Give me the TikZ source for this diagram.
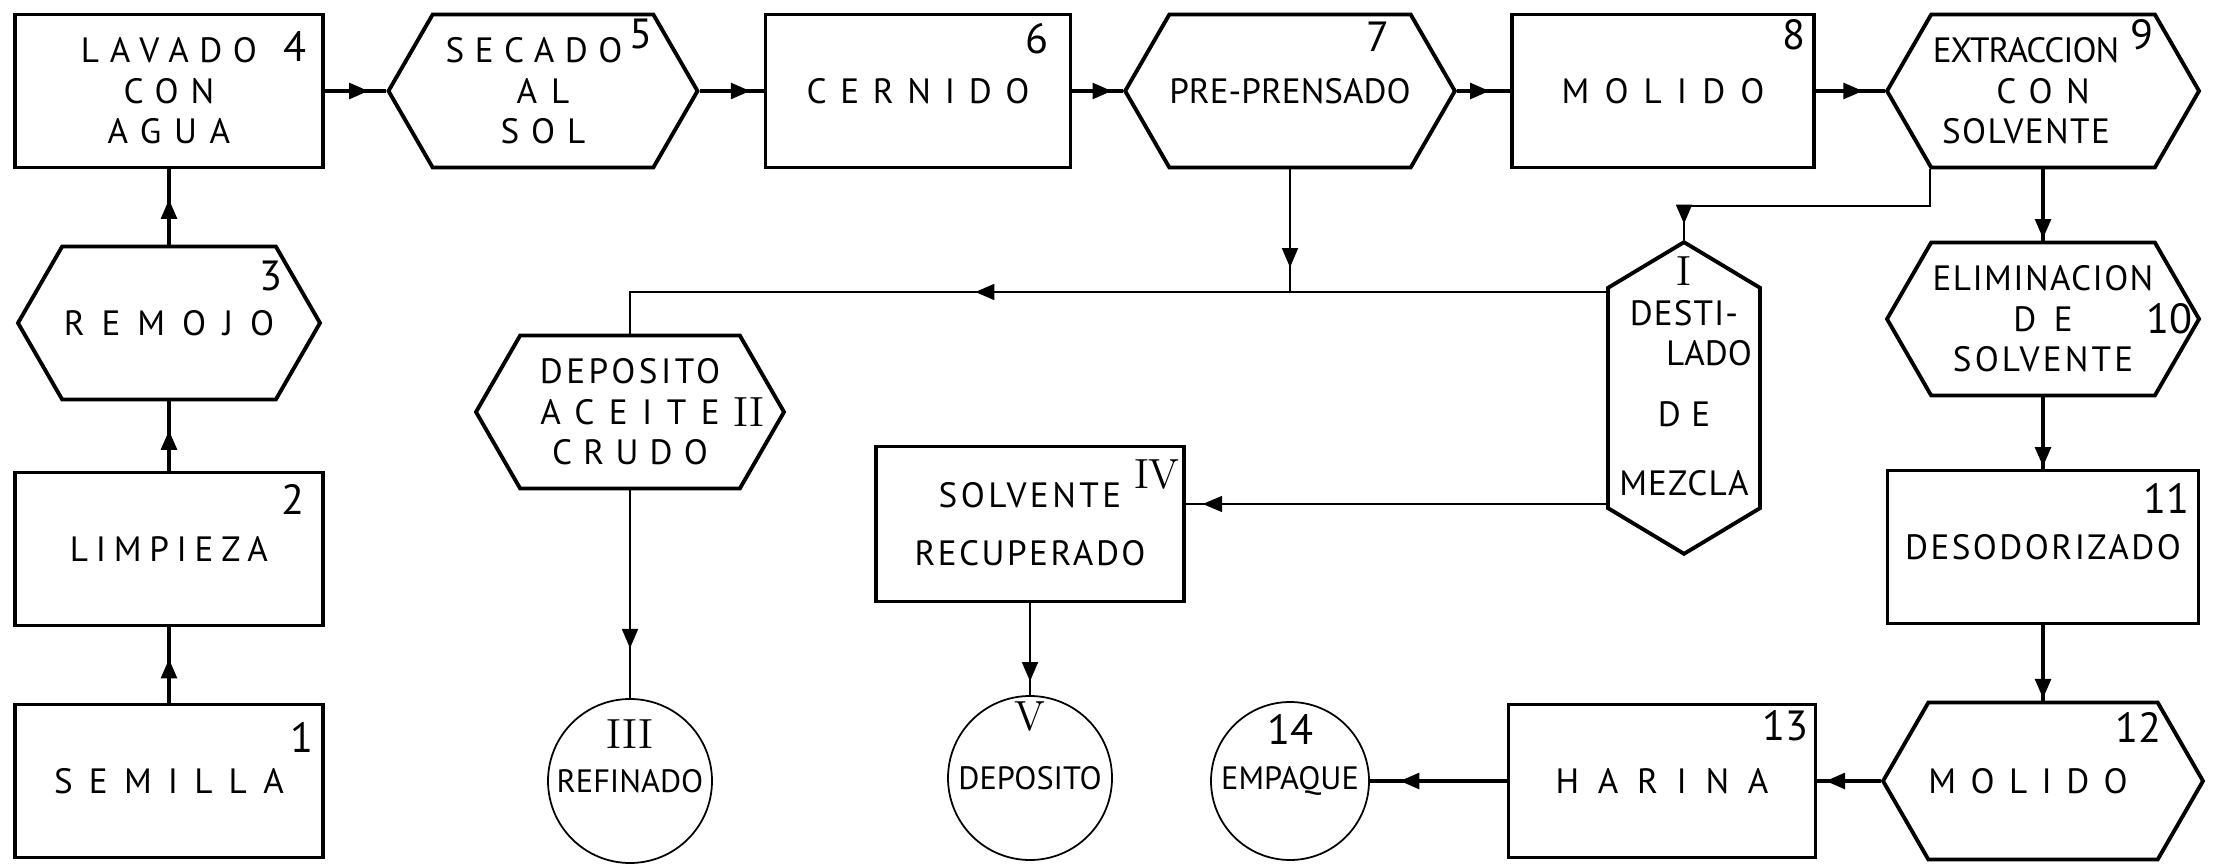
\documentclass[tikz,border=0pt]{standalone}
\usepackage{fontspec}
\setsansfont{PT Sans}
\usepackage{tikz}
\usetikzlibrary{arrows.meta,calc,positioning,shapes.symbols,decorations.markings}
\newcommand{\trk}[2]{{\addfontfeatures{LetterSpace=#1}#2}}

\begin{document}
\begin{tikzpicture}[
    stage/.style={draw,line width=1.1pt,minimum width=3.08cm,minimum height=1.53cm,
      inner sep=0pt,align=center,font=\sffamily\fontsize{10}{11.5}\selectfont},
    hexa/.style={stage,shape=signal,signal to=east and west,signal pointer angle=120},
    tank/.style={draw,circle,line width=0.5pt,minimum size=1.64cm,inner sep=0pt,
      font=\sffamily\fontsize{9.2}{11}\selectfont},
    num/.style={inner sep=0pt,font=\sffamily\fontsize{12}{12}\selectfont},
    rom/.style={inner sep=0pt,font=\rmfamily\fontsize{12}{12}\selectfont},
    flow/.style={line width=0.9pt,postaction={decorate},decoration={markings,
      mark=at position #1 with {\arrow{Triangle[length=5.5pt,width=4.5pt]}}}}]
  \path[fill=white,use as bounding box] (0,0) rectangle (22.15,8.63);

  \node[stage] (b4) at (1.69,7.72) {\trk{30}{LAVADO}\\\trk{34}{CON}\\\trk{36}{AGUA}};
  \node[hexa,minimum width=3.09cm] (h5) at (5.43,7.72) {\trk{30}{SECADO}\hspace*{0.18cm}\\\trk{40}{AL}\\\trk{34}{SOL}};
  \node[stage,minimum width=3.05cm] (b6) at (9.18,7.72) {\trk{39}{CERNIDO}};
  \node[hexa,minimum width=2.98cm] (h7) at (12.90,7.72) {PRE-PRENSADO};
  \node[stage,minimum width=3.02cm] (b8) at (16.63,7.72) {\trk{43}{MOLIDO}};
  \node[hexa,minimum width=3.12cm] (h9) at (20.43,7.72)
    {\trk{-3}{EXTRACCION}\hspace*{0.34cm}\\\trk{38}{CON}\hspace*{0.34cm}\\\trk{4}{SOLVENTE}\hspace*{0.34cm}};
  \node[hexa,minimum width=3.02cm] (h3) at (1.69,5.40) {\trk{48}{REMOJO}};
  \node[stage] (b2) at (1.69,3.14) {\trk{22}{LIMPIEZA}};
  \node[stage] (b1) at (1.69,0.82) {\trk{46}{SEMILLA}};
  \node[hexa] (hII) at (6.30,4.51) {\trk{10}{DEPOSITO}\\\trk{41}{ACEITE}\\\trk{32}{CRUDO}};
  \node[tank] (cIII) at (6.30,0.82) {REFINADO};
  \node[stage,minimum height=1.55cm] (bIV) at (10.30,3.39) {\trk{10}{SOLVENTE}\\[4.9pt]\trk{7}{RECUPERADO}};
  \node[tank] (cV) at (10.30,0.85) {DEPOSITO};
  \node[tank,minimum size=1.58cm] (c14) at (12.90,0.82) {EMPAQUE};
  \node[stage,minimum width=3.07cm] (b13) at (16.62,0.82) {\trk{53}{HARINA}};
  \node[hexa,minimum height=1.57cm] (h12) at (20.43,0.82) {\trk{41}{MOLIDO}\hspace*{0.3cm}};
  \node[stage,minimum width=3.11cm] (b11) at (20.43,3.16) {\trk{7}{DESODORIZADO}};
  \node[hexa,minimum width=3.12cm] (h10) at (20.43,5.44) {\trk{4}{ELIMINACION}\\\trk{50}{DE}\\\trk{9}{SOLVENTE}};
  \node[stage,shape=signal,signal to=north and south,signal pointer angle=118,
    minimum width=1.52cm,minimum height=3.02cm] (hI) at (16.84,4.65)
    {\trk{3}{DESTI-}\\\hspace*{0.5cm}LADO\\[5.7pt]\trk{30}{DE}\\[8.2pt]\trk{3}{MEZCLA}};

  \node[num] (n1) at ([shift={(1.33,0.44)}]b1.center) {1};
  \node[num] (n2) at ([shift={(1.24,0.50)}]b2.center) {2};
  \node[num] (n3) at ([shift={(1.02,0.47)}]h3.center) {3};
  \node[num] (n4) at ([shift={(1.26,0.44)}]b4.center) {4};
  \node[num] (n5) at ([shift={(0.98,0.57)}]h5.center) {5};
  \node[num] (n6) at ([shift={(1.19,0.52)}]b6.center) {6};
  \node[num] (n7) at ([shift={(0.88,0.54)}]h7.center) {7};
  \node[num] (n8) at ([shift={(1.31,0.56)}]b8.center) {8};
  \node[num] (n9) at ([shift={(0.99,0.56)}]h9.center) {9};
  \node[num] (n10) at ([shift={(1.26,0)}]h10.center) {10};
  \node[num] (n11) at ([shift={(1.23,0.49)}]b11.center) {11};
  \node[num] (n12) at ([shift={(0.95,0.54)}]h12.center) {12};
  \node[num] (n13) at ([shift={(1.23,0.55)}]b13.center) {13};
  \node[num] (n14) at ([shift={(0,0.52)}]c14.center) {14};
  \node[rom] (rI) at ([shift={(0,1.27)}]hI.center) {I};
  \node[rom] (rII) at ([shift={(1.19,0)}]hII.center) {II};
  \node[rom] (rIII) at ([shift={(0,0.47)}]cIII.center) {III};
  \node[rom] (rIV) at ([shift={(1.27,0.49)}]bIV.center) {IV};
  \node[rom] (rV) at ([shift={(0,0.61)}]cV.center) {V};

  \coordinate (k9) at (19.30,6.57);
  \coordinate (ul) at ([yshift=1.06cm]hI.west);
  \coordinate (ll) at ([yshift=-1.06cm]hI.west);
  \coordinate (j7) at (h7.south |- ul);

  \draw[flow=0.58] (b1.north) -- (b2.south);
  \draw[flow=0.58] (b2.north) -- (h3.south);
  \draw[flow=0.6] (h3.north) -- (b4.south);
  \draw[flow=0.71] (b4.east) -- (h5.west);
  \draw[flow=0.79] (h5.east) -- (b6.west);
  \draw[flow=0.78] (b6.east) -- (h7.west);
  \draw[flow=0.61] (h7.east) -- (b8.west);
  \draw[flow=0.68] (b8.east) -- (h9.west);
  \draw[flow=0.97] (h9.south) -- (h10.north);
  \draw[flow=0.97] (h10.south) -- (b11.north);
  \draw[flow=0.97] (b11.south) -- (h12.north);
  \draw[flow=0.87] (h12.west) -- (b13.east);
  \draw[flow=0.78] (b13.west) -- (c14.east);
  \draw[flow=-1.6mm,line width=0.7pt] (h9.south -| k9) -- (k9) -| (hI.north);
  \draw[flow=0.62,line width=0.7pt] (ul) -| (hII.north);
  \draw[flow=0.8,line width=0.6pt] (h7.south) -- (j7);
  \draw[flow=0.96,line width=0.6pt] (ll) -- (ll -| bIV.east);
  \draw[flow=0.76,line width=0.7pt] (hII.south) -- (cIII.north);
  \draw[flow=0.85,line width=0.7pt] (bIV.south) -- (cV.north);
\end{tikzpicture}
\end{document}
